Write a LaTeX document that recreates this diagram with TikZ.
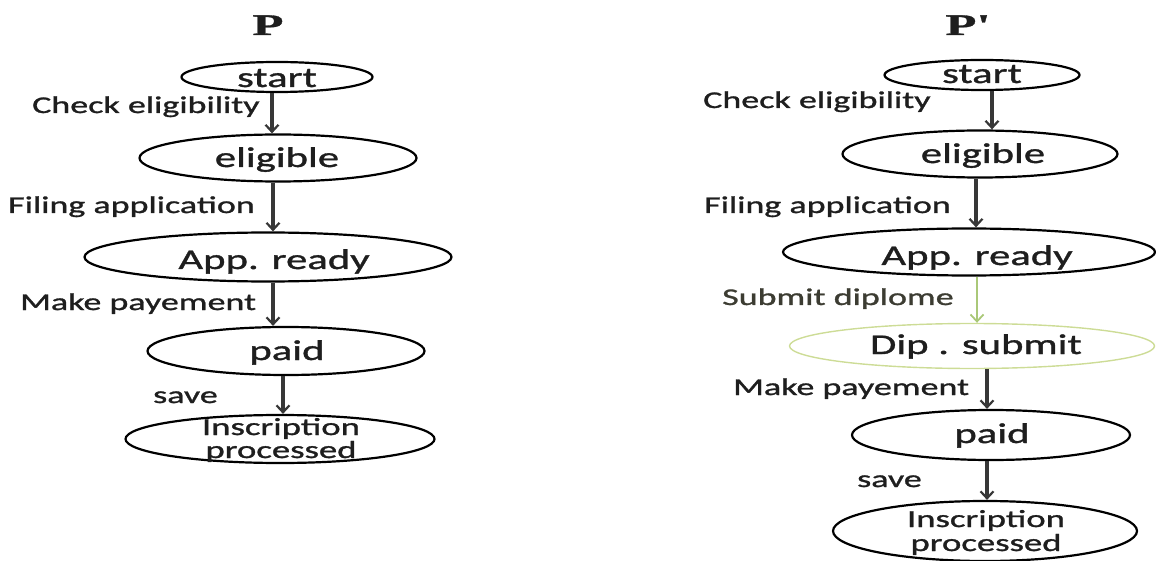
\documentclass[tikz,border=0pt]{standalone}
\usepackage{fontspec}
\usetikzlibrary{shapes.geometric,arrows.meta}
\newfontfamily\lblfont[FakeStretch=1.5,FakeBold=1.2]{Carlito}
\newfontfamily\ttlfont[FakeStretch=1.7,FakeBold=1]{Liberation Serif}
\definecolor{ink}{RGB}{30,30,30}
\definecolor{arrowgray}{RGB}{55,55,55}
\definecolor{lightgreen}{RGB}{170,200,120}
\definecolor{palegreen}{RGB}{205,220,150}
\definecolor{olive}{RGB}{60,60,50}
\tikzset{
  x=1pt, y=-1pt,
  stateE/.style={ellipse, draw=black, line width=2.2pt, inner sep=0pt},
  greenE/.style={ellipse, draw=palegreen, line width=1.4pt, inner sep=0pt},
  ntext/.style={inner sep=0pt, anchor=base, text=ink, font=\lblfont\fontsize{28.5}{30}\selectfont},
  ntextsmall/.style={inner sep=0pt, anchor=base, text=ink, font=\lblfont\fontsize{24.5}{26}\selectfont},
  lbl/.style={inner sep=0pt, anchor=base west, text=ink, font=\lblfont\fontsize{24}{26}\selectfont},
  ttl/.style={inner sep=0pt, anchor=base, text=ink, font=\ttlfont\bfseries\fontsize{30}{32}\selectfont},
  arr/.style={draw=arrowgray, line width=3.4pt, -{Straight Barb[length=7pt,width=13pt,line width=2.2pt]}},
  garr/.style={draw=lightgreen, line width=2.6pt, -{Straight Barb[length=7pt,width=13pt,line width=1.8pt]}}
}
\begin{document}
\begin{tikzpicture}
\useasboundingbox (0,0) rectangle (1156,561);
% ---------- Left: P ----------
\node[ttl] (tP) at (268,35) {P};
\node[stateE, minimum width=191pt, minimum height=30pt] (ls) at (277,77) {};
\node[ntext] (lst) at (277,87) {start};
\node[stateE, minimum width=277pt, minimum height=47pt] (le) at (278,158) {};
\node[ntext] (let) at (277,167) {eligible};
\node[stateE, minimum width=367pt, minimum height=49pt] (la) at (268,257) {};
\node[ntext] (lat) at (274,269) {App. ready};
\node[stateE, minimum width=277pt, minimum height=48pt] (lp) at (286,351) {};
\node[ntext] (lpt) at (287,360) {paid};
\node[stateE, minimum width=309pt, minimum height=48pt] (li) at (280,439) {};
\node[ntextsmall] (lit1) at (281,435) {Inscription};
\node[ntextsmall] (lit2) at (281,458) {processed};

\draw[arr] ([xshift=-5pt]ls.south) -- ([xshift=-6pt]le.north);
\draw[arr] ([xshift=-5pt]le.south) -- ([xshift=5pt]la.north);
\draw[arr] ([xshift=5pt]la.south) -- ([xshift=-13pt]lp.north);
\draw[arr] ([xshift=-3pt]lp.south) -- ([xshift=3pt]li.north);

\node[lbl] (l1) at (32,113) {Check eligibility};
\node[lbl] (l2) at (8,213) {Filing application};
\node[lbl] (l3) at (20,310) {Make payement};
\node[lbl] (l4) at (153,403) {save};

% ---------- Right: P' ----------
\node[ttl] (tQ) at (968,35) {P'};
\node[stateE, minimum width=195pt, minimum height=30pt] (rs) at (982,75) {};
\node[ntext] (rst) at (982,83) {start};
\node[stateE, minimum width=275pt, minimum height=47pt] (re) at (980,154) {};
\node[ntext] (ret) at (983,163) {eligible};
\node[stateE, minimum width=372pt, minimum height=47pt] (ra) at (969,252) {};
\node[ntext] (rat) at (977,265) {App. ready};
\node[greenE, minimum width=365pt, minimum height=45pt] (rd) at (972,346) {};
\node[ntext] (rdt) at (976,354) {Dip . submit};
\node[stateE, minimum width=278pt, minimum height=50pt] (rp) at (991,435) {};
\node[ntext] (rpt) at (992,443) {paid};
\node[stateE, minimum width=304pt, minimum height=60pt] (ri) at (985,531) {};
\node[ntextsmall] (rit1) at (986,527) {Inscription};
\node[ntextsmall] (rit2) at (986,551) {processed};

\draw[arr] ([xshift=10pt]rs.south) -- ([xshift=12pt]re.north);
\draw[arr] ([xshift=-4pt]re.south) -- ([xshift=7pt]ra.north);
\draw[garr] ([xshift=8pt]ra.south) -- ([xshift=5pt]rd.north);
\draw[arr] ([xshift=15pt]rd.south) -- ([xshift=-4pt]rp.north);
\draw[arr] ([xshift=-4pt]rp.south) -- ([xshift=2pt]ri.north);

\node[lbl] (r1) at (703,108) {Check eligibility};
\node[lbl] (r2) at (704,213) {Filing application};
\node[lbl, text=olive] (r3) at (722,305) {Submit diplome};
\node[lbl] (r4) at (733,395) {Make payement};
\node[lbl] (r5) at (857,487) {save};
\end{tikzpicture}
\end{document}
